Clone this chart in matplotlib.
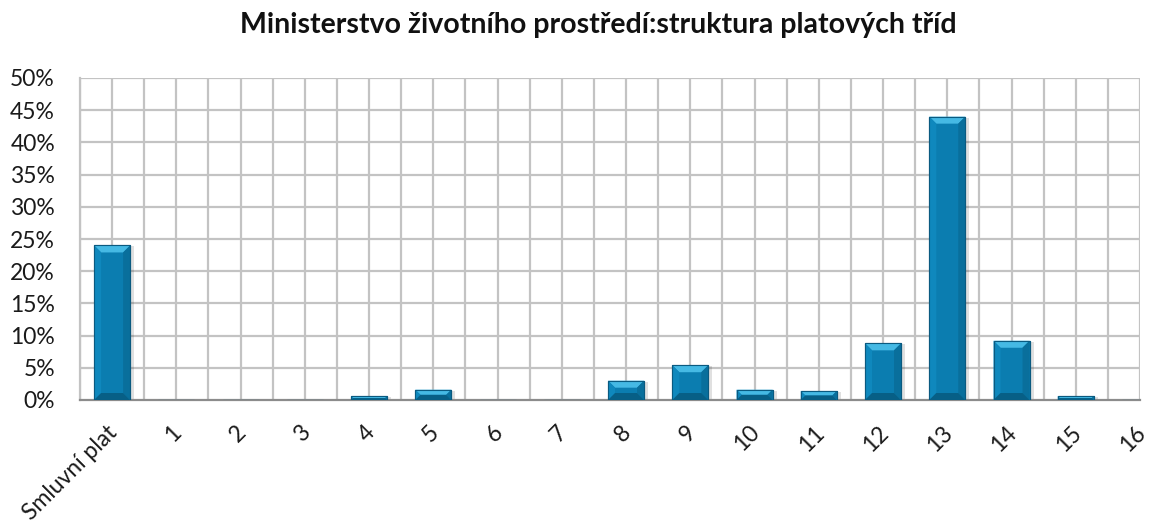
import matplotlib
matplotlib.use("Agg")
import matplotlib.pyplot as plt
from matplotlib.patches import Polygon, Rectangle
from matplotlib.transforms import IdentityTransform, ScaledTranslation
from matplotlib.ticker import FuncFormatter
import numpy as np

title = "Ministerstvo životního prostředí:struktura platových tříd"
categories = ["Smluvní plat", "1", "2", "3", "4", "5", "6", "7", "8", "9",
              "10", "11", "12", "13", "14", "15", "16"]
values = [24.0, 0.0, 0.0, 0.0, 0.6, 1.6, 0.0, 0.0, 3.0, 5.4,
          1.6, 1.4, 8.8, 44.0, 9.2, 0.6, 0.0]
yticks = [0, 5, 10, 15, 20, 25, 30, 35, 40, 45, 50]

plt.rcParams['font.family'] = ['Lato', 'DejaVu Sans']

W, H = 1157, 529
fig = plt.figure(figsize=(W / 100, H / 100), dpi=100)
ax = fig.add_axes([80 / W, 1 - 400 / H, (1140 - 80) / W, (400 - 78) / H])

x = np.arange(len(categories))
ax.set_xlim(-0.5, len(categories) - 1)
ax.set_ylim(0, 50)

# grid
grid_c = "#c3c3c3"
for yv in yticks[1:]:
    ax.axhline(yv, color=grid_c, lw=1.6, zorder=0)
for xv in np.arange(-0.5, len(categories) - 1 + 0.01, 0.5):
    ax.axvline(xv, color=grid_c, lw=1.6, zorder=0)

for s in ["top", "right"]:
    ax.spines[s].set_visible(False)
ax.spines["left"].set_color(grid_c)
ax.spines["left"].set_linewidth(1.6)
ax.spines["bottom"].set_color("#8c8c8c")
ax.spines["bottom"].set_linewidth(1.6)

bars = ax.bar(x, values, width=0.56, color="#0b7db0", edgecolor="#0a5a80",
              linewidth=0.8, zorder=3)

ax.set_yticks(yticks)
ax.yaxis.set_major_formatter(FuncFormatter(lambda v, p: f"{int(v)}%"))
ax.set_xticks(x)
ax.set_xticklabels(categories)
ax.tick_params(axis="y", length=0, pad=18, labelsize=16.5, labelcolor="#1a1a1a")
ax.tick_params(axis="x", length=0, pad=21, labelsize=16.5, labelcolor="#1a1a1a")
for lab in ax.get_xticklabels():
    lab.set_rotation(45)
    lab.set_ha("right")
    lab.set_va("center")
    lab.set_rotation_mode("anchor")
    lab.set_transform(lab.get_transform() + ScaledTranslation(2 / 100, 0, fig.dpi_scale_trans))

fig.suptitle(title, x=598 / W, y=1 - 12 / H, fontsize=20.5,
             fontweight="bold", color="#111111", va="top")

# bevel effect, computed from bar geometry in display space
fig.canvas.draw()
for b in bars:
    if b.get_height() <= 0:
        continue
    (x0, y0), (x1, y1) = ax.transData.transform(
        [(b.get_x(), 0), (b.get_x() + b.get_width(), b.get_height())])
    hgt = y1 - y0
    bv = min(7.0, hgt / 2.0)
    tr = IdentityTransform()
    # shadow
    ax.add_patch(Rectangle((x0 + 2, y0 - 1), x1 - x0 + 2, hgt, transform=tr,
                           facecolor="#000000", alpha=0.12, lw=0, zorder=2))
    # top bevel
    ax.add_patch(Polygon([(x0, y1), (x1, y1), (x1 - bv, y1 - bv), (x0 + bv, y1 - bv)],
                         closed=True, transform=tr, facecolor="#45b9e4", lw=0, zorder=4))
    # left bevel
    ax.add_patch(Polygon([(x0, y1), (x0 + bv, y1 - bv), (x0 + bv, y0 + bv), (x0, y0)],
                         closed=True, transform=tr, facecolor="#0f88bd", lw=0, zorder=4))
    # right bevel
    ax.add_patch(Polygon([(x1, y1), (x1 - bv, y1 - bv), (x1 - bv, y0 + bv), (x1, y0)],
                         closed=True, transform=tr, facecolor="#096f9c", lw=0, zorder=4))
    # bottom bevel
    ax.add_patch(Polygon([(x0, y0), (x1, y0), (x1 - bv, y0 + bv), (x0 + bv, y0 + bv)],
                         closed=True, transform=tr, facecolor="#075f86", lw=0, zorder=4))
    ax.add_patch(Rectangle((x0, y0), x1 - x0, hgt, transform=tr, facecolor="none",
                           edgecolor="#0a5a80", lw=0.8, zorder=5))

fig.savefig("out.png", dpi=100)
